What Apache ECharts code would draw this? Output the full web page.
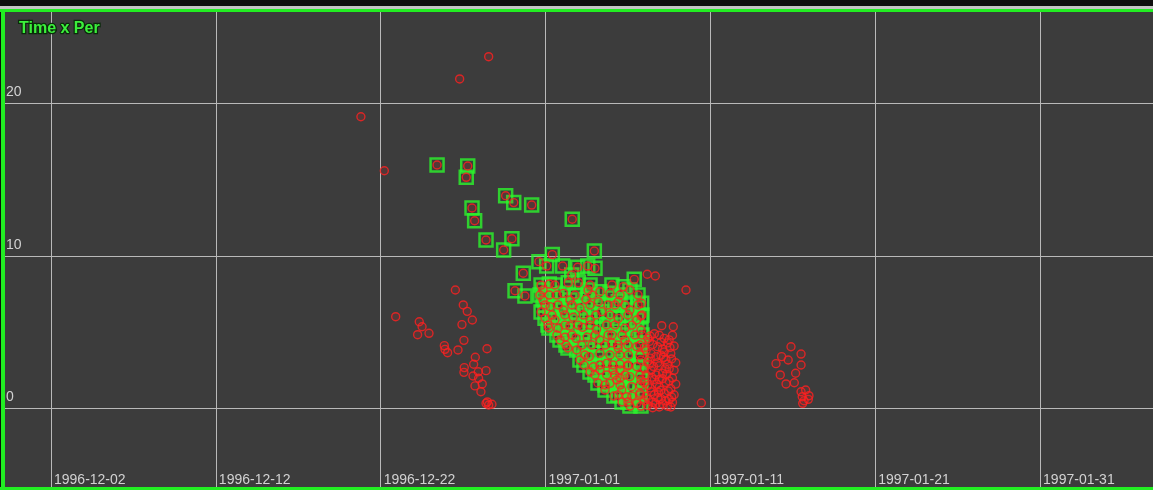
<!DOCTYPE html>
<html>
<head>
<meta charset="utf-8">
<title>Time x Per</title>
<script src="https://cdn.jsdelivr.net/npm/echarts@6/dist/echarts.min.js"></script>
<style>
  html, body { margin: 0; padding: 0; background: #0e0e0e; }
  #chart { width: 1153px; height: 490px; }
</style>
</head>
<body>
<div id="chart"></div>
<script>
// x values are days after 1996-12-02, y values are the "Per" reading.
const xTickLabels = ['1996-12-02', '1996-12-12', '1996-12-22', '1997-01-01', '1997-01-11', '1997-01-21', '1997-01-31'];
const yTickValues = [0, 10, 20];

// readings drawn as red circles only
const looseReadings = [
  [26.55, 23.07], [24.79, 21.61], [18.80, 19.13], [20.22, 15.59], [20.91, 6.02],
  [24.53, 7.77], [25.01, 6.79], [25.25, 6.37], [25.56, 5.80], [22.34, 5.69],
  [22.51, 5.36], [22.24, 4.84], [22.93, 4.93], [24.93, 5.50], [25.05, 4.47],
  [26.45, 3.92], [23.86, 4.12], [23.90, 3.88], [24.06, 3.66], [24.69, 3.84],
  [25.74, 3.36], [25.64, 2.90], [25.07, 2.68], [25.05, 2.37], [25.92, 2.41],
  [26.39, 2.48], [25.60, 2.13], [25.94, 1.98], [26.16, 1.61], [25.72, 1.48],
  [26.08, 1.10], [26.39, 0.34], [26.55, 0.23], [26.75, 0.28], [26.47, 0.43]
];

// late cluster around mid January
const januaryReadings = [
  [44.89, 4.05], [45.50, 3.57], [44.32, 3.40], [44.72, 3.18], [43.98, 2.94],
  [45.50, 2.85], [44.24, 2.20], [45.17, 2.31], [44.59, 1.61], [45.09, 1.69],
  [45.50, 1.10], [45.78, 1.21], [45.98, 0.84], [45.57, 0.77], [45.68, 0.51],
  [45.60, 0.34], [45.94, 0.60]
];

// dense column just after the flagged block
const trailingReadings = [
  [36.17, 8.80], [36.66, 8.69], [38.52, 7.77], [37.05, 5.43], [37.75, 5.36], [39.45, 0.36],
  [36.2, 4.6], [36.9, 4.8], [37.5, 4.5], [37.8, 4.1], [36.5, 4.2], [37.1, 3.9],
  [36.1, 3.8], [37.6, 3.6], [36.7, 3.4], [37.3, 3.2], [36.2, 3.1], [37.9, 3.0],
  [36.9, 2.8], [36.4, 2.5], [37.5, 2.6], [37.1, 2.3], [36.1, 2.2], [37.7, 2.0],
  [36.6, 1.9], [37.3, 1.7], [36.2, 1.5], [36.9, 1.4], [37.6, 1.3], [36.4, 1.1],
  [37.2, 1.0], [36.1, 0.8], [36.8, 0.7], [37.5, 0.6], [36.5, 0.4], [37.1, 0.3],
  [37.7, 0.4], [36.2, 0.2], [37.4, 0.15], [36.9, 0.1], [37.8, 0.9], [36.3, 2.9],
  [37.0, 3.5], [37.4, 4.3],
  [36.0, 4.0], [36.4, 3.6], [37.2, 4.6], [36.6, 4.9], [37.7, 4.8], [36.8, 3.0],
  [37.4, 2.9], [36.0, 2.6], [37.8, 2.5], [36.7, 2.2], [37.5, 1.8], [36.0, 1.7],
  [36.9, 1.9], [37.0, 1.2], [36.6, 0.9], [37.3, 0.5], [36.0, 0.5], [36.7, 0.3],
  [37.6, 0.1], [37.9, 1.6], [37.2, 3.7], [36.3, 4.4],
  [36.35, 4.75], [37.0, 4.35], [37.55, 4.0], [36.8, 4.05], [36.35, 3.3], [37.15, 3.35],
  [37.65, 3.25], [36.55, 2.75], [37.25, 2.6], [36.45, 2.05], [37.1, 1.95], [37.35, 2.25],
  [36.35, 1.35], [36.75, 1.6], [37.45, 1.15], [36.85, 1.05], [36.25, 0.6], [37.0, 0.65],
  [37.65, 0.75], [36.5, 0.05]
];

// readings flagged with a green square (each also carries its red circle)
const flaggedReadings = [
  [23.42, 15.97], [25.28, 15.90], [25.19, 15.16], [25.54, 13.15], [25.70, 12.31],
  [27.58, 13.95], [28.07, 13.50], [29.16, 13.34], [31.62, 12.41], [26.39, 11.05],
  [27.96, 11.13], [27.46, 10.39], [30.41, 10.09], [32.96, 10.33], [29.60, 9.63],
  [30.07, 9.34], [31.04, 9.34], [31.95, 9.26], [32.56, 9.34], [33.00, 9.19],
  [28.65, 8.87], [31.59, 8.75], [35.38, 8.47], [31.99, 8.25], [31.38, 8.25],
  [30.23, 8.16], [28.15, 7.72], [28.75, 7.38], [30.23, 7.44], [31.08, 7.55],
  [33.30, 7.66], [33.91, 7.55], [34.72, 7.99], [35.12, 7.77], [32.45, 7.16],
  [33.20, 7.00], [34.41, 7.00], [35.83, 6.90], [30.27, 6.68], [31.08, 6.46],
  [33.41, 6.35], [35.12, 6.46], [29.97, 5.91], [30.57, 5.80], [31.68, 5.98],
  [32.29, 6.13], [34.41, 5.91], [35.53, 5.80], [30.77, 5.26], [32.25, 5.32],
  [33.10, 5.19], [33.71, 5.48], [34.82, 5.26], [35.43, 4.82], [31.18, 4.67],
  [31.85, 4.60], [32.53, 4.67], [33.30, 4.49], [34.41, 3.95], [35.53, 4.05],
  [31.89, 3.84], [32.65, 3.40], [33.30, 3.62], [33.91, 3.51], [35.02, 3.51],
  [33.71, 2.96], [32.90, 2.74], [34.52, 2.92], [35.53, 2.74], [33.71, 2.20],
  [34.52, 2.52], [35.12, 2.09], [33.91, 1.65], [35.23, 1.43], [34.62, 1.21],
  [34.92, 0.77], [35.53, 0.34], [34.32, 1.87], [35.73, 1.00],
  [29.73, 8.09], [29.85, 7.11], [29.73, 6.33], [29.85, 7.77], [30.21, 5.28],
  [30.88, 4.49], [31.36, 3.97], [32.09, 3.18], [32.70, 2.39], [33.18, 1.67],
  [33.61, 1.21], [34.15, 0.82], [34.64, 0.43], [35.12, 0.16], [35.79, 0.16],
  [35.79, 1.87], [35.79, 3.18], [35.79, 5.15], [35.79, 6.07], [34.82, 4.49],
  [34.03, 4.30], [32.82, 4.16], [31.48, 5.41], [32.70, 5.80], [34.03, 4.82],
  [31.48, 7.11], [32.09, 6.59], [34.21, 6.79], [32.58, 7.77], [34.52, 2.00],
  [33.30, 2.52], [34.09, 2.52], [35.00, 2.79], [35.00, 4.16], [35.24, 0.82],
  [30.57, 8.10], [32.70, 8.10], [34.03, 8.10],
  [29.66, 7.44], [30.69, 7.44], [31.79, 7.44], [32.82, 7.44], [34.52, 7.44], [35.61, 7.44],
  [29.97, 6.79], [30.75, 6.79], [31.60, 6.79], [32.70, 6.79], [33.79, 6.79], [34.82, 6.79], [35.61, 6.79],
  [30.39, 6.13], [31.18, 6.13], [33.06, 6.13], [33.91, 6.13], [35.00, 6.13], [35.85, 6.13],
  [30.15, 5.47], [31.18, 5.47], [31.97, 5.47], [32.70, 5.47], [34.21, 5.47], [35.24, 5.47],
  [30.69, 4.82], [31.60, 4.82], [33.00, 4.82], [33.79, 4.82], [34.64, 4.82], [35.85, 4.82],
  [31.24, 4.16], [32.21, 4.16], [33.61, 4.16], [34.39, 4.16], [35.73, 4.16],
  [32.39, 3.51], [34.52, 3.51], [35.73, 3.51],
  [32.33, 2.85], [33.30, 2.85], [34.09, 2.85], [35.00, 2.85],
  [33.00, 2.20], [34.21, 2.20], [34.82, 2.20], [35.73, 2.20],
  [33.61, 1.54], [34.52, 1.54], [35.73, 1.54],
  [34.39, 0.89], [35.73, 0.89], [35.00, 0.43]
];

const allReadings = looseReadings.concat(januaryReadings, trailingReadings, flaggedReadings);

const chart = echarts.init(document.getElementById('chart'), null, { renderer: 'canvas' });

const labelFont = { color: '#d2d2d2', fontFamily: 'Liberation Sans, Arial, sans-serif', fontSize: 14 };

chart.setOption({
  backgroundColor: '#0e0e0e',
  animation: false,
  title: {
    text: 'Time x Per',
    left: 14,
    top: 16,
    textStyle: {
      color: '#3cf03c',
      fontFamily: 'Liberation Sans, Arial, sans-serif',
      fontWeight: 'bold',
      fontSize: 16,
      textBorderColor: '#0b2a0b',
      textBorderWidth: 2.5
    }
  },
  grid: {
    left: 5, right: 0, top: 12, bottom: 3,
    show: true, backgroundColor: '#3c3c3c', borderWidth: 0
  },
  xAxis: {
    type: 'value',
    min: -2.79,
    max: 66.85,
    minInterval: 10,
    maxInterval: 10,
    axisLine: { show: false },
    axisTick: { show: false },
    splitLine: { show: true, showMinLine: false, showMaxLine: false, lineStyle: { color: '#b9b9b9', width: 1 } },
    axisLabel: Object.assign({
      inside: true,
      showMinLabel: false,
      showMaxLabel: false,
      align: 'left',
      margin: 0,
      padding: [0, 0, 0, 3],
      formatter: function (v) {
        const i = Math.round(v / 10);
        return Math.abs(v - i * 10) < 1e-6 && xTickLabels[i] ? xTickLabels[i] : '';
      }
    }, labelFont)
  },
  yAxis: {
    type: 'value',
    min: -5.148,
    max: 26.0,
    minInterval: 10,
    maxInterval: 10,
    axisLine: { show: false },
    axisTick: { show: false },
    splitLine: { show: true, showMinLine: false, showMaxLine: false, lineStyle: { color: '#b9b9b9', width: 1 } },
    axisLabel: Object.assign({
      inside: true,
      showMinLabel: false,
      showMaxLabel: false,
      align: 'left',
      verticalAlign: 'bottom',
      margin: 1,
      padding: [0, 0, 4, 0],
      formatter: function (v) {
        return yTickValues.indexOf(Math.round(v)) >= 0 && Math.abs(v - Math.round(v)) < 1e-6 ? String(Math.round(v)) : '';
      }
    }, labelFont)
  },
  series: [
    {
      name: 'flagged',
      type: 'scatter',
      symbol: 'rect',
      symbolSize: 13,
      z: 2,
      data: flaggedReadings,
      itemStyle: { color: 'rgba(0,0,0,0)', borderColor: '#2cf52c', borderWidth: 2.5 }
    },
    {
      name: 'readings',
      type: 'scatter',
      symbol: 'circle',
      symbolSize: 8,
      z: 3,
      data: allReadings,
      itemStyle: { color: 'rgba(255,30,30,0.15)', borderColor: '#ff2020', borderWidth: 1.4 }
    }
  ],
  graphic: [
    { type: 'rect', z: 100, shape: { x: 0, y: 6, width: 1153, height: 3 }, style: { fill: '#c4c4c4' } },
    { type: 'rect', z: 100, shape: { x: 0, y: 9, width: 1153, height: 3 }, style: { fill: '#22ee22' } },
    { type: 'rect', z: 100, shape: { x: 1, y: 9, width: 4, height: 481 }, style: { fill: '#22ee22' } },
    { type: 'rect', z: 100, shape: { x: 0, y: 487, width: 1153, height: 3 }, style: { fill: '#22ee22' } }
  ]
});
</script>
</body>
</html>
